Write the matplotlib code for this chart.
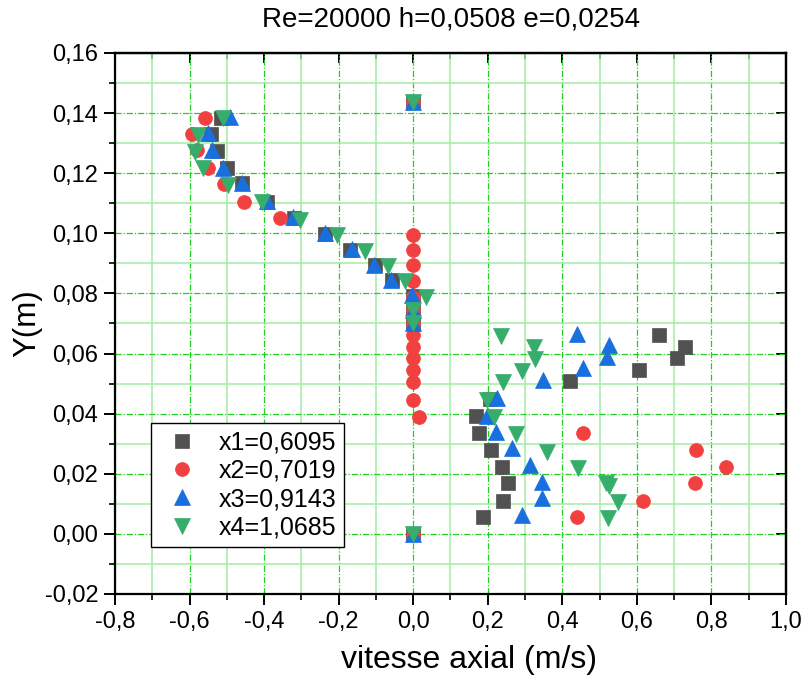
import matplotlib
matplotlib.use("Agg")
import matplotlib.pyplot as plt
from matplotlib.ticker import MultipleLocator, FuncFormatter

plt.rcParams['font.family'] = ['Liberation Sans', 'DejaVu Sans']

title = "Re=20000 h=0,0508 e=0,0254"
xlabel = "vitesse axial (m/s)"
ylabel = "Y(m)"
labels = ["x1=0,6095", "x2=0,7019", "x3=0,9143", "x4=1,0685"]

x1 = [0.0, -0.516, -0.542, -0.526, -0.500, -0.459, -0.392, -0.320, -0.237, -0.170, -0.102, -0.056,
      0.0, 0.0, 0.0, 0.659, 0.729, 0.707, 0.606, 0.420, 0.206, 0.168, 0.176, 0.208, 0.238, 0.254,
      0.241, 0.188, 0.0]
y1 = [0.1437, 0.1384, 0.1330, 0.1274, 0.1217, 0.1167, 0.1104, 0.1051, 0.0998, 0.0946, 0.0894, 0.0843,
      0.0790, 0.0745, 0.0702, 0.0662, 0.0622, 0.0585, 0.0545, 0.0509, 0.0449, 0.0392, 0.0336, 0.0279,
      0.0222, 0.0169, 0.0109, 0.0056, 0.0]

x2 = [0.0, -0.559, -0.594, -0.580, -0.550, -0.508, -0.454, -0.357, 0.0, 0.0, 0.0, 0.0, 0.0, 0.0, 0.0,
      0.0, 0.0, 0.0, 0.0, 0.0, 0.0, 0.016, 0.455, 0.758, 0.839, 0.756, 0.616, 0.439, 0.0]
y2 = [0.1437, 0.1384, 0.1330, 0.1277, 0.1217, 0.1164, 0.1104, 0.1051, 0.0994, 0.0943, 0.0894, 0.0841,
      0.0788, 0.0745, 0.0702, 0.0662, 0.0622, 0.0585, 0.0545, 0.0505, 0.0445, 0.0389, 0.0336, 0.0279,
      0.0222, 0.0169, 0.0109, 0.0056, 0.0]

x3 = [0.0, -0.491, -0.550, -0.540, -0.510, -0.459, -0.392, -0.322, -0.237, -0.164, -0.105, -0.060,
      -0.003, 0.0, 0.0, 0.439, 0.525, 0.520, 0.455, 0.348, 0.225, 0.198, 0.222, 0.265, 0.313, 0.345,
      0.345, 0.292, 0.0]
y3 = [0.1437, 0.1387, 0.1334, 0.1277, 0.1217, 0.1167, 0.1107, 0.1054, 0.1000, 0.0948, 0.0894, 0.0845,
      0.0795, 0.0745, 0.0702, 0.0665, 0.0628, 0.0589, 0.0551, 0.0512, 0.0452, 0.0392, 0.0339, 0.0286,
      0.0229, 0.0172, 0.0119, 0.0062, 0.0]

x4 = [0.0, -0.510, -0.577, -0.585, -0.564, -0.497, -0.406, -0.304, -0.205, -0.130, -0.068, -0.022,
      0.034, 0.0, 0.0, 0.235, 0.324, 0.327, 0.292, 0.241, 0.198, 0.217, 0.276, 0.359, 0.442, 0.517,
      0.525, 0.549, 0.522, 0.0]
y4 = [0.1437, 0.1384, 0.1327, 0.1270, 0.1217, 0.1160, 0.1104, 0.1044, 0.0994, 0.0941, 0.0891, 0.0841,
      0.0788, 0.0745, 0.0702, 0.0658, 0.0622, 0.0582, 0.0542, 0.0505, 0.0445, 0.0389, 0.0332, 0.0272,
      0.0219, 0.0169, 0.0158, 0.0106, 0.0053, 0.0]

colors = ["#515151", "#F14040", "#1A6FDF", "#37AD6B"]
markers = ["s", "o", "^", "v"]
msizes = [9.5, 10, 11.5, 11.5]

fig = plt.figure(figsize=(8.03, 6.79), dpi=100)
ax = fig.add_axes([0.1432, 0.1252, 0.9788 - 0.1432, 0.922 - 0.1252])

for xs, ys, c, m, s, lab in zip([x1, x2, x3, x4], [y1, y2, y3, y4], colors, markers, msizes, labels):
    ax.plot(xs, ys, linestyle='none', marker=m, markersize=s, color=c,
            markeredgecolor=c, markeredgewidth=0.5, label=lab, zorder=3, clip_on=False)

ax.set_xlim(-0.8, 1.0)
ax.set_ylim(-0.02, 0.16)
ax.xaxis.set_major_locator(MultipleLocator(0.2))
ax.xaxis.set_minor_locator(MultipleLocator(0.1))
ax.yaxis.set_major_locator(MultipleLocator(0.02))
ax.yaxis.set_minor_locator(MultipleLocator(0.01))

def fmt(decimals):
    def f(v, pos):
        s = f"{v:.{decimals}f}"
        if s.startswith("-") and float(s) == 0:
            s = s[1:]
        return s.replace(".", ",")
    return FuncFormatter(f)

ax.xaxis.set_major_formatter(fmt(1))
ax.yaxis.set_major_formatter(fmt(2))

ax.grid(which='minor', color='#a3eea3', linewidth=1.1, linestyle='-', zorder=0)
ax.grid(which='major', color='#22d022', linewidth=0.9, linestyle=(0, (5, 1.5, 1, 1.5)), zorder=0)
ax.set_axisbelow(True)

for sp in ax.spines.values():
    sp.set_linewidth(1.6)

ax.tick_params(which='major', direction='out', length=8, width=1.4, labelsize=17, pad=4)
ax.tick_params(which='minor', direction='out', length=4, width=1.2)

secx = ax.secondary_xaxis('top')
secx.xaxis.set_major_locator(MultipleLocator(0.2))
secx.xaxis.set_minor_locator(MultipleLocator(0.1))
secx.tick_params(which='major', direction='in', length=7, width=1.4, labeltop=False)
secx.tick_params(which='minor', direction='in', length=4, width=1.2)
secx.spines['top'].set_linewidth(1.6)

secy = ax.secondary_yaxis('right')
secy.yaxis.set_major_locator(MultipleLocator(0.02))
secy.yaxis.set_minor_locator(MultipleLocator(0.01))
secy.tick_params(which='major', direction='in', length=7, width=1.4, labelright=False)
secy.tick_params(which='minor', direction='in', length=4, width=1.2)
secy.spines['right'].set_linewidth(1.6)

fig.text(451 / 803, 1 - 19 / 679, title, fontsize=20, ha='center', va='center')
fig.text(469 / 803, 1 - 660 / 679, xlabel, fontsize=23, ha='center', va='center')
ax.set_ylabel(ylabel, fontsize=22.5, labelpad=2)

leg = ax.legend(loc='lower left', bbox_to_anchor=(0.0537, 0.0869), borderaxespad=0,
                fontsize=18, frameon=True, fancybox=False, borderpad=0.3,
                handlelength=1.9, handletextpad=0.5, labelspacing=0.17, markerscale=1.0)
leg.get_frame().set_edgecolor('black')
leg.get_frame().set_linewidth(1.0)
leg.get_frame().set_alpha(1)

fig.savefig("out.png", dpi=100)
